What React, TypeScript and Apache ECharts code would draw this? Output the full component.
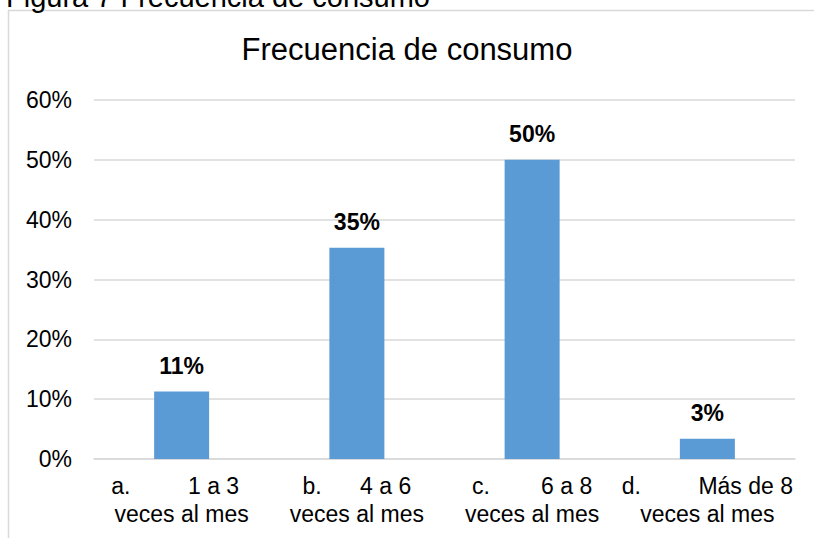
import React, { useEffect, useRef } from "react";
import * as echarts from "echarts";

const categories = [
  "a.         1 a 3  \nveces al mes",
  "b.      4 a 6\nveces al mes",
  "c.        6 a 8\nveces al mes",
  "d.         Más de 8\nveces al mes",
];
const values = [11.3, 35.3, 50.0, 3.4];
const yTicks = { min: 0, max: 60, interval: 10 };
const chartTitle = "Frecuencia de consumo";
const figureCaption = "Figura 7 Frecuencia de consumo";

export default function App() {
  const ref = useRef<HTMLDivElement>(null);
  useEffect(() => {
    if (!ref.current) return;
    const chart = echarts.init(ref.current, null, { renderer: "svg" });
    const font = "'Liberation Sans', Arial, sans-serif";
    chart.setOption({
      animation: false,
      backgroundColor: "#ffffff",
      textStyle: { fontFamily: font },
      title: {
        text: chartTitle,
        left: "center",
        top: 29,
        textStyle: { fontFamily: font, fontSize: 31, fontWeight: "normal", color: "#000" },
      },
      graphic: [
        {
          type: "rect",
          shape: { x: 8.5, y: 10.5, width: 900, height: 700 },
          style: { fill: "none", stroke: "#d9d9d9", lineWidth: 1.5 },
          silent: true,
        },
        {
          type: "text",
          x: 6,
          y: -3.5,
          style: {
            text: figureCaption,
            fontFamily: font,
            fontSize: 29,
            fill: "#000",
            verticalAlign: "middle",
            align: "left",
          },
          silent: true,
        },
      ],
      grid: { left: 94, right: 19, top: 100, bottom: 79, containLabel: false },
      xAxis: {
        type: "category",
        data: categories,
        axisLine: { show: true, lineStyle: { color: "#d9d9d9", width: 1.5 } },
        axisTick: { show: false },
        axisLabel: {
          interval: 0,
          fontFamily: font,
          fontSize: 23,
          lineHeight: 28,
          color: "#000",
          margin: 13,
        },
      },
      yAxis: {
        type: "value",
        min: yTicks.min,
        max: yTicks.max,
        interval: yTicks.interval,
        axisLine: { show: false },
        axisTick: { show: false },
        splitLine: { lineStyle: { color: "#d9d9d9", width: 1.5 } },
        axisLabel: {
          formatter: "{value}%",
          fontFamily: font,
          fontSize: 23,
          color: "#000",
          margin: 22,
        },
      },
      series: [
        {
          type: "bar",
          data: values,
          barWidth: 55,
          itemStyle: { color: "#5b9bd5" },
          label: {
            show: true,
            position: "top",
            distance: 14,
            fontFamily: font,
            fontSize: 23,
            fontWeight: "bold",
            color: "#000",
            formatter: (p: any) => Math.round(p.value) + "%",
          },
        },
      ],
    });
    return () => chart.dispose();
  }, []);
  return <div ref={ref} style={{ width: 814, height: 538, position: "absolute", left: 0, top: 0 }} />;
}
